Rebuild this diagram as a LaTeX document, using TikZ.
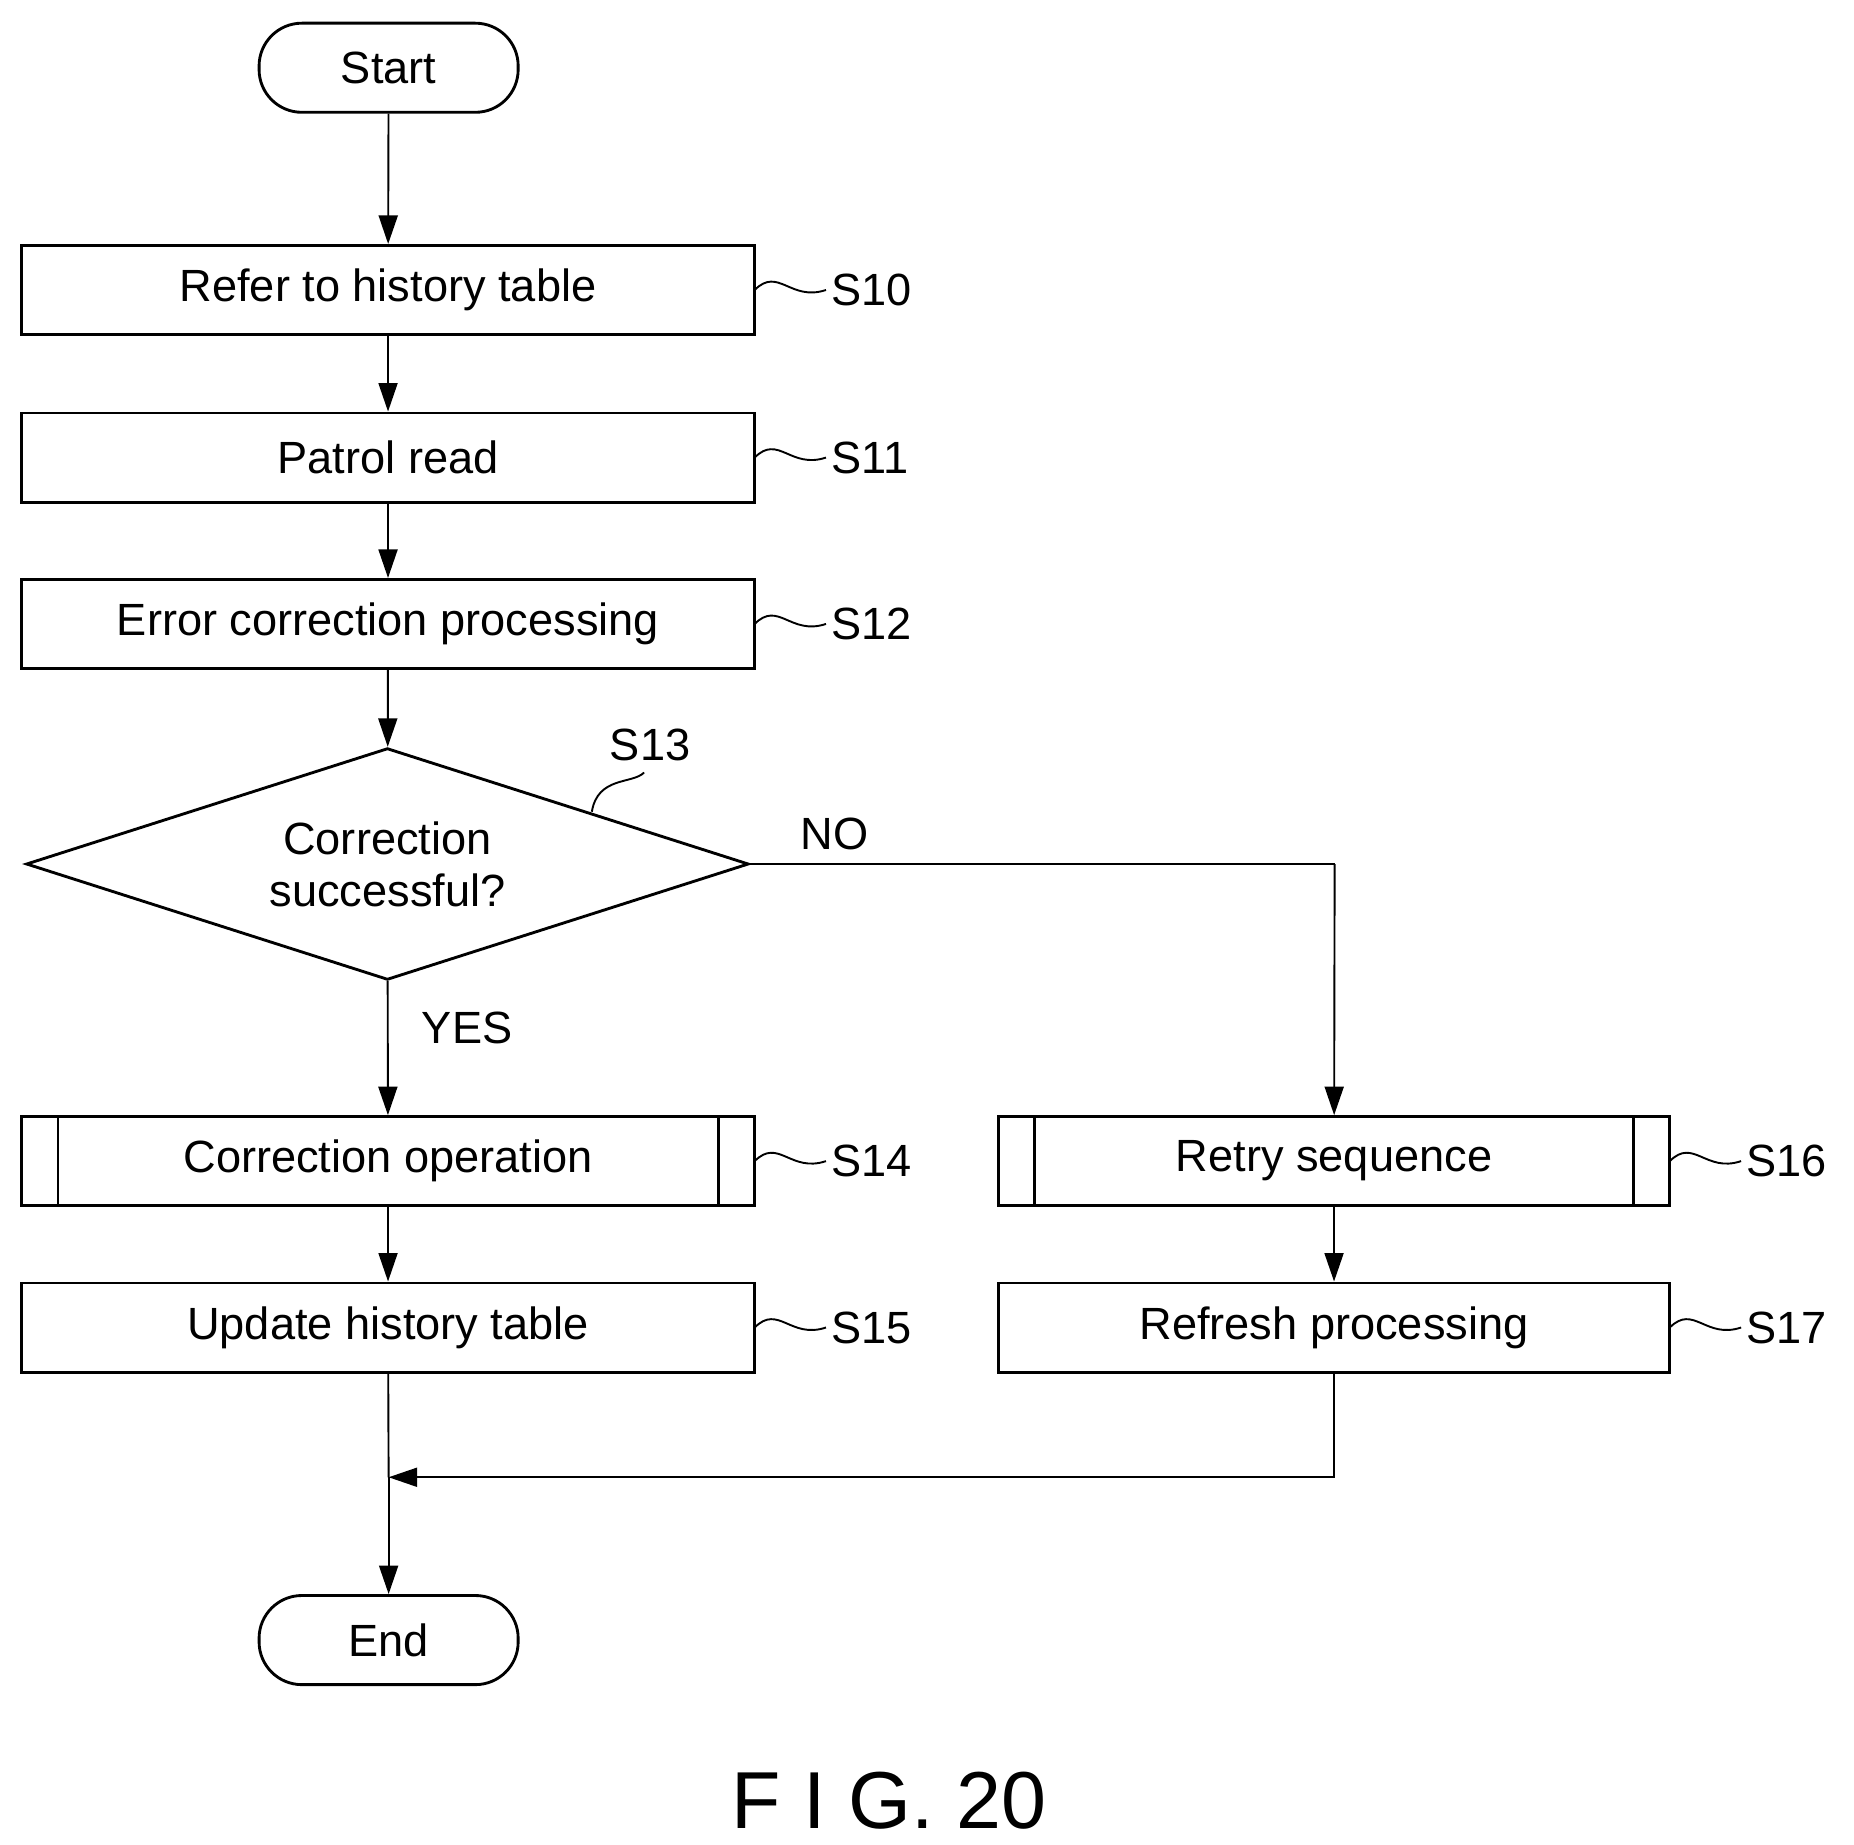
\documentclass[tikz,border=0pt]{standalone}
\usepackage{fontspec}
\setmainfont{Liberation Sans}
\usetikzlibrary{shapes.geometric,arrows.meta}
\begin{document}
\begin{tikzpicture}[x=0.5pt,y=-0.5pt,
  box/.style={draw,line width=1.2pt,minimum width=308.5pt,minimum height=37.5pt,inner sep=0pt,font=\fontsize{19}{22}\selectfont},
  rbox/.style={box,minimum width=282.5pt},
  term/.style={draw,line width=1.2pt,rounded corners=18pt,minimum width=109pt,minimum height=37.5pt,font=\fontsize{19}{22}\selectfont},
  lab/.style={font=\fontsize{19}{22}\selectfont,anchor=west,inner sep=0pt},
  arr/.style={line width=0.8pt,-{Triangle[length=12pt,width=8pt]}},
  ln/.style={line width=0.8pt}]
\useasboundingbox (0,0) rectangle (1560,1552);
\node[term] (start) at (327,57) {Start};
\node[box] (s10) at (326.5,244) {Refer to history table};
\node[box] (s11) at (326.5,385) {Patrol read};
\node[box] (s12) at (326.5,525) {Error correction processing};
\node[draw,line width=1.2pt,diamond,aspect=3.1,minimum width=304pt,minimum height=97.5pt,inner sep=0pt,align=center,font=\fontsize{19}{22}\selectfont] (s13) at (326,727) {Correction\\successful?};
\node[box] (s14) at (326.5,977) {Correction operation};
\node[box] (s15) at (326.5,1117) {Update history table};
\node[rbox] (s16) at (1122.5,977) {Retry sequence};
\node[rbox] (s17) at (1122.5,1117) {Refresh processing};
\node[term] (end) at (327,1380) {End};
\draw[line width=1.2pt] ([xshift=16pt]s14.north west)--([xshift=16pt]s14.south west) ([xshift=-16pt]s14.north east)--([xshift=-16pt]s14.south east);
\draw[line width=1.2pt] ([xshift=16pt]s16.north west)--([xshift=16pt]s16.south west) ([xshift=-16pt]s16.north east)--([xshift=-16pt]s16.south east);
\coordinate (m) at (327,1243);
\coordinate (nr) at (1123,727);
\draw[arr] (start)--(s10);
\draw[arr] (s10)--(s11);
\draw[arr] (s11)--(s12);
\draw[arr] (s12)--(s13);
\draw[arr] (s13)--(s14);
\draw[arr] (s14)--(s15);
\draw[ln] (s13.east)--(nr);
\draw[arr] (nr)--(s16);
\draw[arr] (s16)--(s17);
\draw[ln] (s15)--(m);
\draw[arr] (s17.south)|-(m);
\draw[arr] (m)--(end);
\node[font=\fontsize{19}{22}\selectfont] at (702,702) {NO};
\node[font=\fontsize{19}{22}\selectfont] at (393,865) {YES};
\foreach \n/\x/\y in {S10/635/244,S11/635/385,S12/635/525,S14/635/977,S15/635/1117,S16/1405/977,S17/1405/1117}{
  \coordinate (c\n) at (\x,\y);
  \draw[ln] (c\n) .. controls +(20,-20) and +(-30,10) .. ++(60,0) coordinate (e\n);
  \node[lab] at ([xshift=2pt]e\n) {\n};
}
\coordinate (d13) at (498,683);
\draw[ln] (d13) .. controls +(5,-30) and +(-10,10) .. ++(44,-33) coordinate (e13);
\node[font=\fontsize{19}{22}\selectfont] at (547,627) {S13};
\node[font=\fontsize{34}{40}\selectfont] at (748,1515) {F I G. 20};
\end{tikzpicture}
\end{document}
